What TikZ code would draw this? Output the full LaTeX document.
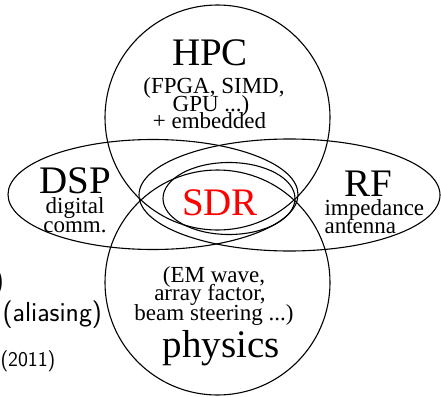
\documentclass[tikz,border=0pt]{standalone}
\usepackage{fontspec}
\setmainfont{Liberation Serif}
\begin{document}
\begin{tikzpicture}[x=1pt,y=-1pt,line width=1.1pt,
  big/.style={font=\fontsize{39}{39}\selectfont, inner sep=0pt, anchor=base},
  small/.style={font=\fontsize{23}{23}\selectfont, inner sep=0pt, anchor=base},
  frag/.style={font=\sffamily\fontsize{27.5}{27.5}\selectfont, inner sep=0pt}]
\useasboundingbox (0,0) rectangle (441,396);
% shapes
\draw (217.5,117.5) circle [radius=112.5pt];
\draw (217.5,282.5) circle [radius=112.5pt];
\draw (153,194.5) ellipse [x radius=145pt, y radius=55pt];
\draw (289.5,195) ellipse [x radius=150.5pt, y radius=56pt];
\draw (229,198.5) ellipse [x radius=66pt, y radius=36pt];
% HPC
\node[big] (hpc) at (210,65) {HPC};
\node[small] (hpc1) at (214,93) {(FPGA, SIMD,};
\node[small] (hpc2) at (211,111) {GPU ...)};
\node[small] (hpc3) at (209.5,128) {+ embedded};
% DSP
\node[big] (dsp) at (75,193) {DSP};
\node[small] (dsp1) at (75,213) {digital};
\node[small] (dsp2) at (75,232) {comm.};
% SDR
\node[big,text=red] (sdr) at (220,215) {SDR};
% RF
\node[big] (rf) at (368,196) {RF};
\node[small,anchor=base west] (rf1) at (324,215) {impedance};
\node[small,anchor=base west] (rf2) at (324,233) {antenna};
% physics
\node[small] (ph1) at (214,282) {(EM wave,};
\node[small] (ph2) at (210,300.5) {array factor,};
\node[small] (ph3) at (214,320) {beam steering ...)};
\node[big] (ph) at (221,357) {physics};
% fragments
\node[frag,anchor=base east] (f1) at (4.5,289) {)};
\node[frag,anchor=base west] (f2) at (2,321) {(aliasing)};
\node[frag,font=\sffamily\fontsize{21}{21}\selectfont,anchor=base west] (f3) at (0,366) {(2011)};
\end{tikzpicture}
\end{document}
